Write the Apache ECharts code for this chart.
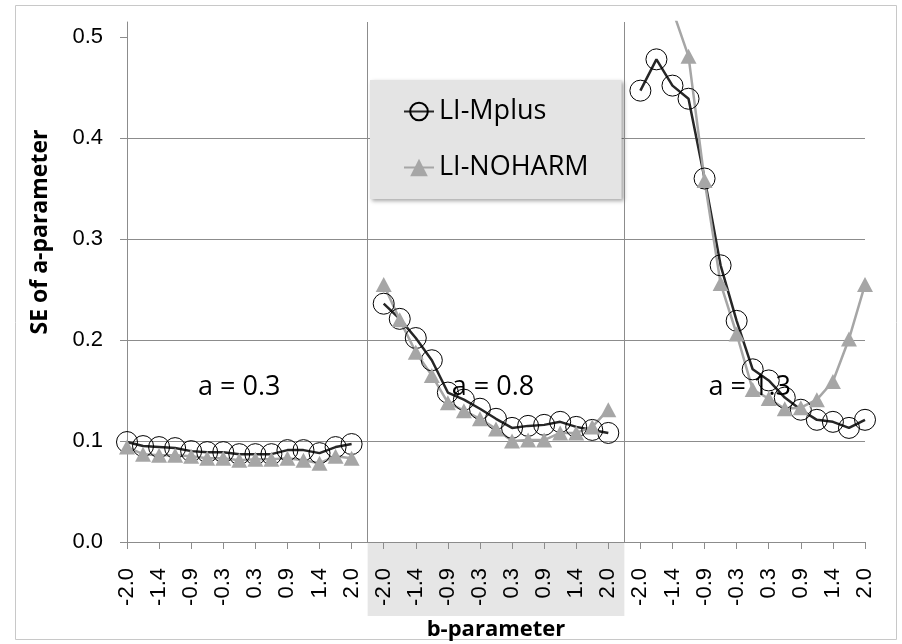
<!DOCTYPE html>
<html>
<head>
<meta charset="utf-8">
<script src="https://cdn.jsdelivr.net/npm/echarts@6/dist/echarts.min.js"></script>
<style>
html,body{margin:0;padding:0;background:#fff;}
#chart{width:902px;height:644px;}
</style>
</head>
<body>
<div id="chart"></div>
<script>
// b-parameter values (one panel)
const bValues = ['-2.0','-1.7','-1.4','-1.1','-0.9','-0.6','-0.3','0.0','0.3','0.6','0.9','1.1','1.4','1.7','2.0'];
const panelLabels = ['a = 0.3', 'a = 0.8', 'a = 1.3'];
const yTicks = [0, 0.1, 0.2, 0.3, 0.4, 0.5];

// LI-Mplus
const mplusA03 = [0.099, 0.095, 0.094, 0.093, 0.090, 0.089, 0.089, 0.087, 0.087, 0.087, 0.091, 0.091, 0.088, 0.094, 0.097];
const mplusA08 = [0.236, 0.221, 0.202, 0.180, 0.148, 0.141, 0.132, 0.122, 0.113, 0.115, 0.116, 0.119, 0.114, 0.111, 0.108];
const mplusA13 = [0.447, 0.478, 0.452, 0.439, 0.360, 0.274, 0.219, 0.171, 0.160, 0.143, 0.131, 0.121, 0.119, 0.113, 0.121];
// LI-NOHARM
const noharmA03 = [0.094, 0.087, 0.086, 0.086, 0.085, 0.083, 0.083, 0.081, 0.082, 0.082, 0.083, 0.081, 0.078, 0.085, 0.083];
const noharmA08 = [0.255, 0.220, 0.188, 0.165, 0.138, 0.130, 0.122, 0.112, 0.100, 0.101, 0.101, 0.108, 0.108, 0.114, 0.131];
const noharmA13 = [0.700, 0.600, 0.527, 0.481, 0.358, 0.256, 0.206, 0.151, 0.142, 0.132, 0.133, 0.141, 0.159, 0.201, 0.255];

const categories = [...bValues, '', ...bValues, '', ...bValues];
const mplus = [...mplusA03, null, ...mplusA08, null, ...mplusA13];
const noharm = [...noharmA03, null, ...noharmA08, null, ...noharmA13];
const gapIdx = [bValues.length, bValues.length * 2 + 1];
const centerIdx = [7, bValues.length + 1 + 7, (bValues.length + 1) * 2 + 7];

const chart = echarts.init(document.getElementById('chart'), null, {renderer: 'canvas'});
const axisGray = '#8c8c8c';
const option = {
  animation: false,
  backgroundColor: '#fff',
  grid: {left: 127, right: 37, top: 22, bottom: 102, containLabel: false, outerBoundsMode: 'none'},
  legend: {
    data: ['LI-Mplus', 'LI-NOHARM'],
    orient: 'vertical',
    left: 370, top: 80,
    itemWidth: 30, itemHeight: 22, itemGap: 29,
    padding: [18, 33, 18, 33],
    backgroundColor: '#e4e4e4',
    shadowBlur: 4, shadowColor: 'rgba(0,0,0,0.35)', shadowOffsetX: 2, shadowOffsetY: 2,
    textStyle: {fontSize: 27, fontFamily: 'Open Sans', color: '#000'}
  },
  xAxis: {
    type: 'category',
    data: categories,
    boundaryGap: false,
    name: 'b-parameter',
    nameLocation: 'middle',
    nameGap: 77,
    nameTextStyle: {fontSize: 22, fontWeight: 'bold', fontFamily: 'Open Sans', color: '#000'},
    axisLine: {lineStyle: {color: axisGray, width: 1}},
    axisTick: {show: true, interval: 1, length: 7, lineStyle: {color: axisGray}},
    axisLabel: {interval: 1, rotate: 90, margin: 26, fontSize: 22, fontFamily: 'Liberation Sans', color: '#000'},
    splitLine: {show: false}
  },
  yAxis: {
    type: 'value',
    min: 0, max: 0.515, interval: 0.1,
    axisLine: {show: true, lineStyle: {color: axisGray, width: 1}},
    axisTick: {show: true, length: 7, lineStyle: {color: axisGray}, customValues: yTicks},
    axisLabel: {margin: 24, fontSize: 22, fontFamily: 'Liberation Sans', color: '#000',
      customValues: yTicks, formatter: v => v.toFixed(1)},
    splitLine: {show: true, showMaxLine: false, lineStyle: {color: axisGray, width: 1}}
  },
  series: [
    {
      name: 'LI-Mplus', type: 'line', data: mplus,
      symbol: 'circle', symbolSize: 21, showAllSymbol: true,
      itemStyle: {color: 'rgba(0,0,0,0)', borderColor: '#000', borderWidth: 1},
      lineStyle: {color: '#262626', width: 2.5},
      markLine: {
        silent: true, symbol: ['none', 'none'], label: {show: false},
        lineStyle: {color: axisGray, width: 1, type: 'solid'},
        data: gapIdx.map(i => ({xAxis: i}))
      },
      markPoint: {
        silent: true, symbol: 'rect', symbolSize: 1,
        itemStyle: {color: 'rgba(0,0,0,0)'},
        label: {show: true, position: 'inside', formatter: p => p.name, color: '#000', fontSize: 27, fontFamily: 'Open Sans'},
        data: panelLabels.map((t, k) => ({name: t, coord: [centerIdx[k], 0.1535], label: {offset: [k === 0 ? 0 : -3, 0]}}))
      }
    },
    {
      name: 'LI-NOHARM', type: 'line', data: noharm,
      symbol: 'triangle', symbolSize: [16, 15], showAllSymbol: true,
      itemStyle: {color: '#a6a6a6'},
      lineStyle: {color: '#a6a6a6', width: 2.5}
    }
  ]
};
chart.setOption(option);

const x1 = chart.convertToPixel({xAxisIndex: 0}, gapIdx[0]);
const x2 = chart.convertToPixel({xAxisIndex: 0}, gapIdx[1]);
const y0 = chart.convertToPixel({yAxisIndex: 0}, 0);
chart.setOption({
  graphic: [
    {type: 'rect', z: -10, silent: true, shape: {x: x1, y: y0, width: x2 - x1, height: 74}, style: {fill: '#e6e6e6'}},
    {type: 'rect', z: -10, silent: true, shape: {x: 15.5, y: 5.5, width: 881, height: 634}, style: {fill: 'none', stroke: '#c8c8c8', lineWidth: 1}},
    {type: 'text', silent: true, x: 40, y: 232, rotation: Math.PI / 2,
      style: {text: 'SE of a-parameter', font: 'bold 23px "Open Sans"', fill: '#000', textAlign: 'center', textVerticalAlign: 'middle'}}
  ]
});
</script>
</body>
</html>
